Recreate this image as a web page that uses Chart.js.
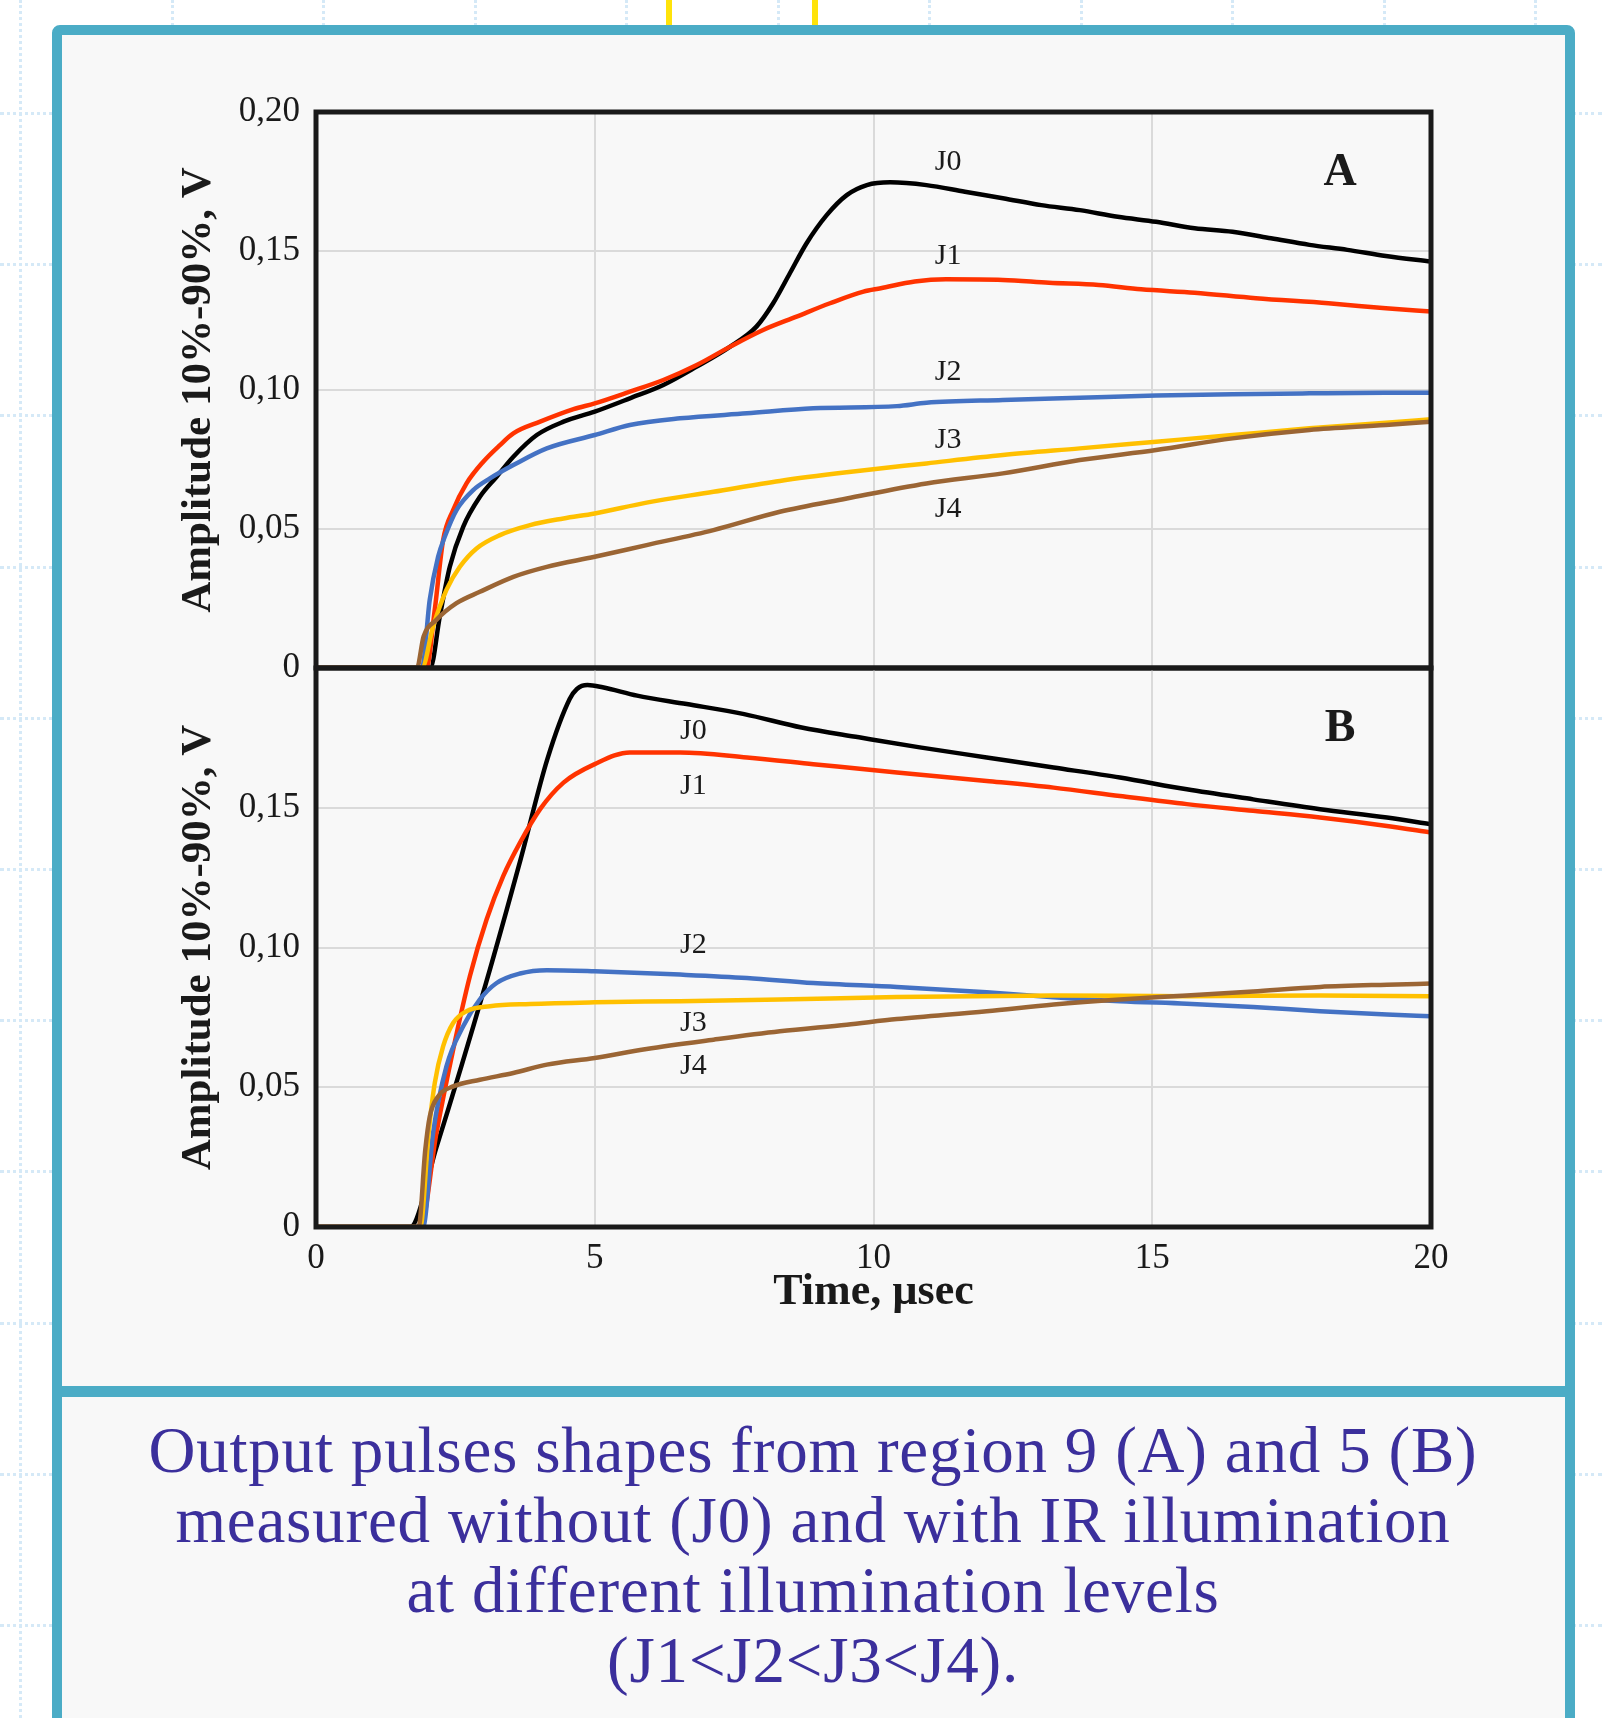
<!DOCTYPE html>
<html>
<head>
<meta charset="utf-8">
<script src="https://cdn.jsdelivr.net/npm/chart.js@4.4.1/dist/chart.umd.min.js"></script>
<style>
html,body{margin:0;padding:0;width:1602px;height:1718px;overflow:hidden;background:#ffffff;}
.vl{position:absolute;top:0;height:1718px;width:0;border-left:3px dotted #d5e9f7;}
.hl{position:absolute;left:0;width:1602px;height:0;border-top:3px dotted #d5e9f7;}
.yl{position:absolute;top:0;height:30px;width:6px;background:#ffe30a;}
#frame{position:absolute;left:52px;top:25px;width:1503px;height:1720px;border:10px solid #4bacc6;border-radius:8px;background:#f8f8f8;}
#divider{position:absolute;left:52px;top:1386px;width:1523px;height:11px;background:#4bacc6;}
#caption{position:absolute;left:62px;top:1415px;width:1502px;text-align:center;font-family:"Liberation Serif",serif;font-size:65px;line-height:70px;color:#3b2f9c;letter-spacing:0.8px;white-space:nowrap;}
canvas{position:absolute;}
</style>
</head>
<body>
<div id="bg"></div>
<div class="yl" style="left:666px"></div>
<div class="yl" style="left:812px"></div>
<div id="frame"></div>
<div id="divider"></div>
<canvas id="chartA" width="1502" height="648" style="left:62px;top:60px;width:1502px;height:648px"></canvas>
<canvas id="chartB" width="1502" height="709" style="left:62px;top:631px;width:1502px;height:709px"></canvas>
<div id="caption">Output pulses shapes from region 9 (A) and 5 (B)<br>measured without (J0) and with IR illumination<br>at different illumination levels<br>(J1&lt;J2&lt;J3&lt;J4).</div>
<script>
// ---------------- DATA ----------------
const seriesNames = ['J0', 'J1', 'J2', 'J3', 'J4'];
const xTickLabels = ['0', '5', '10', '15', '20'];
const yTickLabels = ['0', '0,05', '0,10', '0,15', '0,20'];
const yAxisTitle = 'Amplitude 10%-90%, V';
const xAxisTitle = 'Time, µsec';

// Panel A (region 9)
const timeA_J0 = [0, 2.05, 2.22, 2.40, 2.64, 2.94, 3.24, 3.54, 3.96, 4.44, 5.0, 5.63, 6.23, 6.83, 7.43, 7.90, 8.20, 8.50, 8.80, 9.16, 9.52, 9.88, 10.30, 10.95, 11.64, 12.32, 13.01, 13.70, 14.38, 15.07, 15.76, 16.44, 17.13, 17.82, 18.50, 19.19, 20.0];
const ampA_J0  = [0, 0, 0.0185, 0.0364, 0.0508, 0.0616, 0.0688, 0.0760, 0.0838, 0.0886, 0.0922, 0.0970, 0.1018, 0.1084, 0.1156, 0.1228, 0.1312, 0.1420, 0.1528, 0.1629, 0.1701, 0.1737, 0.1747, 0.1737, 0.1713, 0.1690, 0.1665, 0.1647, 0.1623, 0.1605, 0.1582, 0.1569, 0.1546, 0.1522, 0.1504, 0.1482, 0.1462];
const timeA_J1 = [0, 1.98, 2.13, 2.28, 2.46, 2.70, 3.0, 3.30, 3.54, 4.02, 4.62, 5.0, 5.63, 6.23, 6.83, 7.43, 8.02, 8.62, 9.22, 9.82, 10.13, 10.74, 11.30, 12.32, 13.15, 14.04, 14.80, 15.76, 16.86, 18.16, 19.19, 20.0];
const ampA_J1  = [0, 0, 0.0209, 0.0460, 0.0568, 0.0664, 0.0742, 0.0802, 0.0844, 0.0886, 0.0931, 0.0952, 0.0994, 0.1036, 0.1090, 0.1156, 0.1216, 0.1264, 0.1312, 0.1354, 0.1366, 0.1390, 0.1398, 0.1396, 0.1386, 0.1378, 0.1362, 0.1350, 0.1330, 0.1312, 0.1294, 0.1282];
const timeA_J2 = [0, 1.90, 2.04, 2.19, 2.31, 2.52, 2.82, 3.12, 3.54, 4.14, 5.0, 5.63, 6.53, 7.73, 8.92, 10.42, 10.95, 12.32, 13.70, 15.07, 16.44, 17.82, 19.19, 20.0];
const ampA_J2  = [0, 0, 0.0245, 0.0400, 0.0472, 0.0568, 0.0640, 0.0682, 0.0730, 0.0790, 0.0838, 0.0874, 0.0898, 0.0916, 0.0934, 0.0942, 0.0954, 0.0964, 0.0972, 0.0980, 0.0985, 0.0988, 0.0990, 0.0990];
const timeA_J3 = [0, 1.90, 2.10, 2.34, 2.58, 2.88, 3.30, 3.84, 4.44, 5.0, 5.93, 7.13, 8.32, 9.52, 10.95, 12.32, 13.70, 15.07, 16.44, 17.82, 19.19, 20.0];
const ampA_J3  = [0, 0, 0.0149, 0.0281, 0.0364, 0.0430, 0.0478, 0.0514, 0.0538, 0.0556, 0.0595, 0.0634, 0.0673, 0.0704, 0.0736, 0.0766, 0.0790, 0.0814, 0.0838, 0.0862, 0.0882, 0.0895];
const timeA_J4 = [0, 1.81, 1.93, 2.16, 2.52, 2.94, 3.54, 4.14, 5.0, 5.93, 7.13, 8.32, 9.52, 10.95, 12.32, 13.70, 15.07, 16.44, 17.82, 19.19, 20.0];
const ampA_J4  = [0, 0, 0.0113, 0.0173, 0.0233, 0.0274, 0.0328, 0.0364, 0.0400, 0.0442, 0.0496, 0.0562, 0.0610, 0.0664, 0.0700, 0.0748, 0.0784, 0.0826, 0.0856, 0.0874, 0.0886];

// Panel B (region 5)
const timeB_J0 = [0, 1.69, 2.16, 3.05, 3.67, 4.15, 4.55, 4.68, 4.87, 5.14, 5.76, 6.65, 7.68, 8.71, 9.74, 10.83, 12.03, 13.23, 14.42, 15.62, 16.81, 18.01, 19.21, 20.0];
const ampB_J0  = [0, 0, 0.0285, 0.0873, 0.1315, 0.1674, 0.1889, 0.1925, 0.1939, 0.1931, 0.1901, 0.1871, 0.1835, 0.1787, 0.1752, 0.1716, 0.1680, 0.1644, 0.1608, 0.1566, 0.1530, 0.1495, 0.1465, 0.1441];
const timeB_J1 = [0, 1.87, 2.16, 2.46, 2.76, 3.06, 3.36, 3.66, 4.02, 4.44, 5.0, 5.63, 6.53, 7.73, 8.92, 10.42, 12.03, 13.23, 14.42, 15.62, 16.81, 18.01, 19.21, 20.0];
const ampB_J1  = [0, 0, 0.0336, 0.0634, 0.0897, 0.1100, 0.1256, 0.1375, 0.1495, 0.1590, 0.1656, 0.1698, 0.1698, 0.1680, 0.1656, 0.1626, 0.1596, 0.1572, 0.1542, 0.1513, 0.1489, 0.1465, 0.1435, 0.1411];
const timeB_J2 = [0, 1.92, 2.10, 2.34, 2.64, 2.94, 3.24, 3.66, 4.14, 5.0, 6.53, 7.73, 8.92, 10.42, 12.03, 13.23, 14.42, 15.62, 16.81, 18.01, 19.21, 20.0];
const ampB_J2  = [0, 0, 0.0336, 0.0575, 0.0718, 0.0814, 0.0873, 0.0907, 0.0919, 0.0915, 0.0903, 0.0891, 0.0873, 0.0859, 0.0840, 0.0822, 0.0808, 0.0799, 0.0787, 0.0772, 0.0760, 0.0754];
const timeB_J3 = [0, 1.87, 2.02, 2.13, 2.28, 2.46, 2.70, 3.12, 3.84, 5.0, 6.53, 8.32, 10.42, 13.23, 15.62, 18.01, 20.0];
const ampB_J3  = [0, 0, 0.0336, 0.0515, 0.0646, 0.0730, 0.0772, 0.0790, 0.0798, 0.0804, 0.0808, 0.0814, 0.0823, 0.0828, 0.0826, 0.0828, 0.0826];
const timeB_J4 = [0, 1.84, 1.96, 2.04, 2.19, 2.46, 2.94, 3.54, 4.14, 5.0, 5.93, 7.13, 8.32, 9.52, 10.42, 12.03, 13.23, 14.42, 15.62, 16.81, 18.01, 19.21, 20.0];
const ampB_J4  = [0, 0, 0.0276, 0.0395, 0.0467, 0.0503, 0.0527, 0.0551, 0.0581, 0.0605, 0.0637, 0.0670, 0.0700, 0.0724, 0.0744, 0.0772, 0.0796, 0.0814, 0.0828, 0.0843, 0.0859, 0.0867, 0.0871];

// ---------------- STYLE ----------------
const seriesColors = ['#000000', '#ff3300', '#4472c4', '#ffc000', '#9b6534'];
const FONT = '"Liberation Serif", "Times New Roman", serif';
const TEXT = '#1a1a1a';

// curve-label anchors (in data units) for each panel
const annotA = { panel: 'A', panelX: 18.37, panelY: 0.178, labelX: 11.34, labelY: [0.1821, 0.1483, 0.1063, 0.0820, 0.0572] };
const annotB = { panel: 'B', panelX: 18.37, panelY: 0.178, labelX: 6.77,  labelY: [0.1775, 0.1578, 0.1008, 0.0731, 0.0575] };

// ---------------- background decoration ----------------
(function () {
  const bg = document.getElementById('bg');
  for (let k = 0; k < 11; k++) {
    const v = document.createElement('div'); v.className = 'vl'; v.style.left = (19 + 151.5 * k) + 'px'; bg.appendChild(v);
    const h = document.createElement('div'); h.className = 'hl'; h.style.top = (112 + 151.2 * k) + 'px'; bg.appendChild(h);
  }
})();

function makeDatasets(times, amps) {
  return times.map((t, i) => ({
    label: seriesNames[i],
    data: t.map((x, j) => ({ x: x, y: amps[i][j] })),
    borderColor: seriesColors[i],
    backgroundColor: seriesColors[i],
    borderWidth: 4.5,
    pointRadius: 0,
    cubicInterpolationMode: 'monotone',
    fill: false,
    order: 4 - i
  }));
}

const framePlugin = {
  id: 'frameBox',
  afterDatasetsDraw(chart) {
    const { ctx, chartArea: a } = chart;
    ctx.save();
    ctx.strokeStyle = '#1a1a1a';
    ctx.lineWidth = 5;
    ctx.strokeRect(a.left, a.top, a.right - a.left, a.bottom - a.top);
    ctx.restore();
  }
};

const labelPlugin = {
  id: 'curveLabels',
  afterDraw(chart, args, opts) {
    const { ctx } = chart;
    const x = chart.scales.x, y = chart.scales.y;
    ctx.save();
    ctx.fillStyle = TEXT;
    ctx.textAlign = 'center';
    ctx.textBaseline = 'middle';
    ctx.font = '30px ' + FONT;
    seriesNames.forEach((n, i) => {
      ctx.fillText(n, x.getPixelForValue(opts.labelX), y.getPixelForValue(opts.labelY[i]));
    });
    ctx.font = 'bold 46px ' + FONT;
    ctx.fillText(opts.panel, x.getPixelForValue(opts.panelX), y.getPixelForValue(opts.panelY));
    ctx.restore();
  }
};

function yTickCallback(hideTop) {
  return function (v) {
    const idx = Math.round(v / 0.05);
    if (hideTop && idx === 4) return '';
    return yTickLabels[idx] !== undefined ? yTickLabels[idx] : '';
  };
}

function buildChart(canvasId, times, amps, annot, opts) {
  return new Chart(document.getElementById(canvasId), {
    type: 'line',
    data: { datasets: makeDatasets(times, amps) },
    plugins: [framePlugin, labelPlugin],
    options: {
      responsive: false,
      animation: false,
      devicePixelRatio: 1,
      layout: { padding: { top: opts.padTop, right: 133, bottom: 0, left: 0 } },
      plugins: {
        legend: { display: false },
        tooltip: { enabled: false },
        curveLabels: annot
      },
      scales: {
        x: {
          type: 'linear',
          min: 0, max: 20,
          afterFit: (s) => { s.height = opts.xHeight; },
          border: { display: false },
          grid: { color: '#dadada', lineWidth: 2, drawTicks: false },
          ticks: {
            display: opts.showX,
            stepSize: 5,
            autoSkip: false,
            maxRotation: 0,
            padding: 11,
            color: TEXT,
            font: { family: FONT, size: 35 },
            callback: (v) => { const i = Math.round(v / 5); return xTickLabels[i] !== undefined ? xTickLabels[i] : ''; }
          },
          title: {
            display: opts.showX,
            text: xAxisTitle,
            color: TEXT,
            font: { family: FONT, size: 44, weight: 'bold' },
            padding: { top: 0, bottom: 21 }
          }
        },
        y: {
          type: 'linear',
          min: 0, max: 0.2,
          afterFit: (s) => { s.width = 254; },
          border: { display: false },
          grid: { color: '#dadada', lineWidth: 2, drawTicks: false },
          ticks: {
            stepSize: 0.05,
            padding: 16,
            color: TEXT,
            font: { family: FONT, size: 35 },
            callback: yTickCallback(opts.hideTop)
          },
          title: {
            display: true,
            text: yAxisTitle,
            color: TEXT,
            font: { family: FONT, size: 43, weight: 'bold' },
            padding: { top: 111, bottom: 0 }
          }
        }
      }
    }
  });
}

function draw() {
  buildChart('chartA',
    [timeA_J0, timeA_J1, timeA_J2, timeA_J3, timeA_J4],
    [ampA_J0, ampA_J1, ampA_J2, ampA_J3, ampA_J4],
    annotA, { padTop: 52, xHeight: 40, showX: false, hideTop: false });
  buildChart('chartB',
    [timeB_J0, timeB_J1, timeB_J2, timeB_J3, timeB_J4],
    [ampB_J0, ampB_J1, ampB_J2, ampB_J3, ampB_J4],
    annotB, { padTop: 37, xHeight: 113, showX: true, hideTop: true });
}

const fontLoads = [
  document.fonts.load('35px "Liberation Serif"'),
  document.fonts.load('bold 43px "Liberation Serif"')
];
Promise.all(fontLoads).then(draw, draw);
</script>
</body>
</html>
